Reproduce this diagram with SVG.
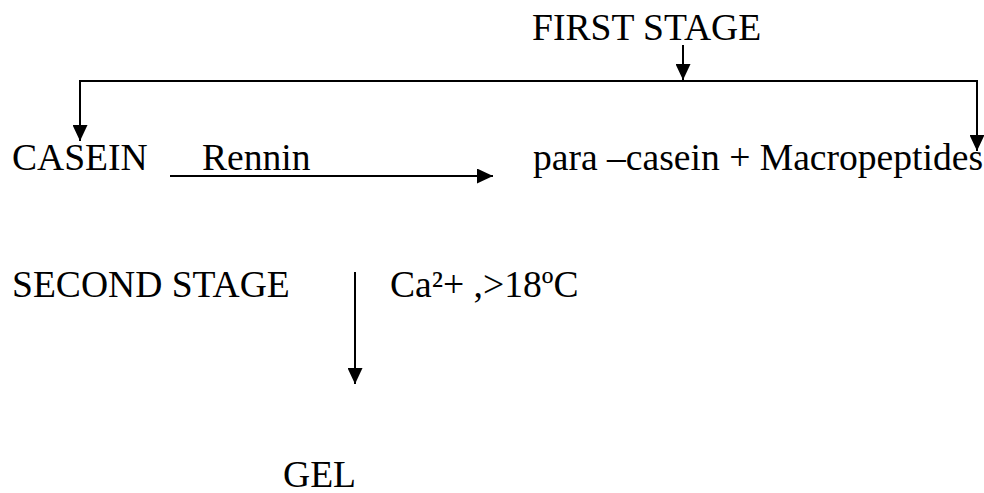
<svg xmlns="http://www.w3.org/2000/svg" width="984" height="493" viewBox="0 0 984 493">
<style>
text{font-family:"Liberation Serif","Times New Roman",serif;font-size:37.6px;fill:#000}
.c{stroke:#000;stroke-width:2;fill:none}
</style>
<defs>
<marker id="ah" viewBox="0 0 16 15" refX="16" refY="7.5" markerWidth="16" markerHeight="15" markerUnits="userSpaceOnUse" orient="auto">
<path d="M0,0 L16,7.5 L0,15 Z" fill="#000"/>
</marker>
</defs>
<rect width="984" height="493" fill="#fff"/>
<g id="connectors">
<line class="c" x1="683" y1="45" x2="683" y2="80" marker-end="url(#ah)"/>
<polyline class="c" points="80,140 80,81 977,81 977,150"/>
<line class="c" x1="80" y1="82" x2="80" y2="141" marker-end="url(#ah)"/>
<line class="c" x1="977" y1="82" x2="977" y2="151" marker-end="url(#ah)"/>
<line class="c" x1="170" y1="176" x2="493" y2="176" marker-end="url(#ah)"/>
<line class="c" x1="355" y1="272" x2="355" y2="384" marker-end="url(#ah)"/>
</g>
<g id="first-stage"><text x="532" y="40">FIRST STAGE</text></g>
<g id="casein"><text x="12" y="170">CASEIN</text></g>
<g id="rennin"><text x="202" y="170">Rennin</text></g>
<g id="products"><text x="533" y="170">para –casein + Macropeptides</text></g>
<g id="second-stage"><text x="12" y="297">SECOND STAGE</text></g>
<g id="conditions"><text x="390" y="297">Ca²+ ,&gt;18ºC</text></g>
<g id="gel"><text x="283" y="487">GEL</text></g>
</svg>
